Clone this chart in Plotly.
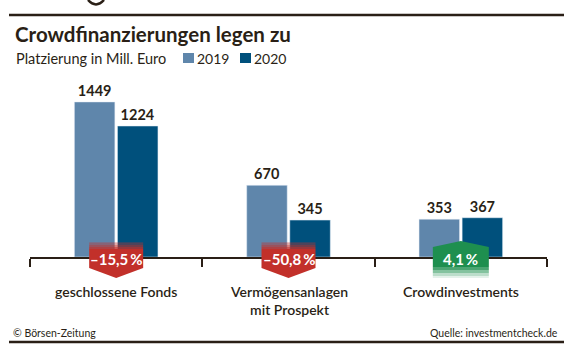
import plotly.graph_objects as go

categories = ["geschlossene Fonds", "Vermögensanlagen<br>mit Prospekt", "Crowdinvestments"]
values_2019 = [1449, 670, 353]
values_2020 = [1224, 345, 367]
change_labels = ["–15,5\u2009%", "–50,8\u2009%", "4,1\u2009%"]
change_up = [False, False, True]
series_names = ["2019", "2020"]

C2019 = "#5f86ab"
C2020 = "#00507c"
RED = "#c2302a"
GREEN = "#1e8f4f"
DARK = "#2a1f16"
FONT = "Lato"

W, H = 574, 357
L, R, T, B = 30, 27, 80, 100
PW = W - L - R
PH = H - T - B


def px(x):
    return (x - L) / PW


def py(y):
    return (H - B - y) / PH


fig = go.Figure()
fig.add_trace(go.Bar(x=list(range(3)), y=values_2019, name=series_names[0], marker_color=C2019,
                     text=values_2019, textposition="outside", cliponaxis=False,
                     textfont=dict(family=FONT, size=14.5, color=DARK, weight="bold")))
fig.add_trace(go.Bar(x=list(range(3)), y=values_2020, name=series_names[1], marker_color=C2020,
                     text=values_2020, textposition="outside", cliponaxis=False,
                     textfont=dict(family=FONT, size=14.5, color=DARK, weight="bold")))

shapes = []
annotations = []

# badges
for i, (lab, up) in enumerate(zip(change_labels, change_up)):
    base = dict(type="path", xref="paper", yref="paper", xsizemode="pixel", ysizemode="pixel",
                xanchor=(i + 0.5) / 3, yanchor=0, line=dict(width=0), layer="above")
    if not up:
        col = RED
        shapes.append(dict(base, path="M -27,8 L 27,8 L 27,-11 L 0,-21 L -27,-11 Z", fillcolor=col))
        for (a, b, op) in [(8, 10, 0.8), (10, 12, 0.6), (12, 14, 0.4), (14, 15, 0.25)]:
            shapes.append(dict(base, path=f"M -27,{a} L 27,{a} L 27,{b} L -27,{b} Z", fillcolor=col, opacity=op))
    else:
        col = GREEN
        shapes.append(dict(base, path="M -28,10 L 0,16 L 28,10 L 28,-10 L -28,-10 Z", fillcolor=col))
        for (a, b, op) in [(-10, -13, 0.8), (-13, -16, 0.55), (-16, -19, 0.3), (-19, -21, 0.12)]:
            shapes.append(dict(base, path=f"M -28,{a} L 28,{a} L 28,{b} L -28,{b} Z", fillcolor=col, opacity=op))
    annotations.append(dict(x=i, y=0, xref="x", yref="y", text=lab, showarrow=False, yshift=-2,
                            font=dict(family=FONT, size=15, color="white", weight="bold")))

# category labels
for i, c in enumerate(categories):
    annotations.append(dict(x=i, y=py(281), xref="x", yref="paper", text=c, showarrow=False,
                            yanchor="top", xanchor="center",
                            font=dict(family=FONT, size=14, color=DARK, weight=600)))

# title & subtitle
annotations.append(dict(x=px(13), y=py(34), xref="paper", yref="paper", text="<b>Crowdfinanzierungen legen zu</b>",
                        showarrow=False, xanchor="left", yanchor="middle",
                        font=dict(family=FONT, size=20.5, color=DARK)))
annotations.append(dict(x=px(14), y=py(58), xref="paper", yref="paper", text="Platzierung in Mill. Euro",
                        showarrow=False, xanchor="left", yanchor="middle",
                        font=dict(family=FONT, size=14.5, color=DARK)))
# manual legend
for (x0, col, name) in [(183, C2019, series_names[0]), (240, C2020, series_names[1])]:
    shapes.append(dict(type="rect", xref="paper", yref="paper", x0=px(x0), x1=px(x0 + 11),
                       y0=py(63), y1=py(53), fillcolor=col, line=dict(width=0)))
    annotations.append(dict(x=px(x0 + 12), y=py(58), xref="paper", yref="paper", text=name,
                            showarrow=False, xanchor="left", yanchor="middle",
                            font=dict(family=FONT, size=14, color=DARK)))

# footer
annotations.append(dict(x=px(11), y=py(333), xref="paper", yref="paper", text="© Börsen-Zeitung",
                        showarrow=False, xanchor="left", yanchor="middle",
                        font=dict(family=FONT, size=10.5, color=DARK)))
annotations.append(dict(x=px(560), y=py(333), xref="paper", yref="paper", text="Quelle: investmentcheck.de",
                        showarrow=False, xanchor="right", yanchor="middle",
                        font=dict(family=FONT, size=10.5, color=DARK)))

# rules
for yy in (15, 342):
    shapes.append(dict(type="line", xref="paper", yref="paper", x0=px(9), x1=px(564), y0=py(yy), y1=py(yy),
                       line=dict(color=DARK, width=2.5)))
# logo fragment
shapes.append(dict(type="path", xref="paper", yref="paper",
                   path=f"M {px(88)},{py(0)} Q {px(96)},{py(9)} {px(104)},{py(0)}",
                   line=dict(color=DARK, width=2.5)))

fig.update_layout(
    width=W, height=H, margin=dict(l=L, r=R, t=T, b=B),
    paper_bgcolor="white", plot_bgcolor="white",
    barmode="group", bargap=0.5, bargroupgap=0.06,
    showlegend=False,
    shapes=shapes, annotations=annotations,
    xaxis=dict(type="linear", range=[-0.5, 2.5], showgrid=False, zeroline=False,
               showline=True, linecolor=DARK, linewidth=1.5,
               tickmode="array", tickvals=[-0.5, 0.5, 1.5, 2.5], ticks="outside", ticklen=8,
               tickcolor=DARK, tickwidth=1.5, showticklabels=False),
    yaxis=dict(range=[0, 1654], visible=False, showgrid=False),
)

fig.write_html("out.html", config={"displayModeBar": False},
               post_script="document.body.style.margin='0';")
